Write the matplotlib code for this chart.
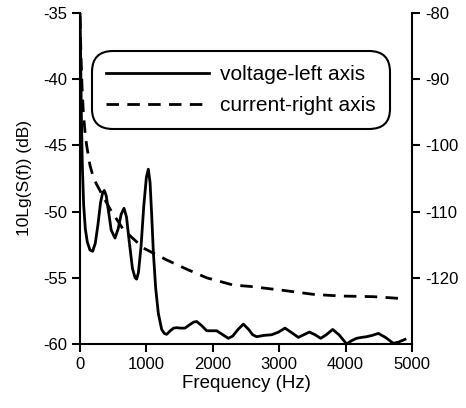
import matplotlib
matplotlib.use("Agg")
import matplotlib.pyplot as plt

plt.rcParams['font.family'] = ['Liberation Sans', 'DejaVu Sans']
plt.rcParams['axes.unicode_minus'] = False

# voltage spectrum (left axis, dB)
volt_f = [0, 10, 20, 35, 55, 80, 110, 150, 190, 230, 270, 310, 340, 366, 395, 430,
          470, 527, 575, 620, 663, 700, 740, 790, 830, 853, 880, 920, 960, 1000, 1029,
          1055, 1080, 1105, 1140, 1180, 1230, 1270, 1305, 1360, 1410, 1456, 1520, 1581,
          1650, 1710, 1757, 1830, 1908, 1980, 2058, 2150, 2234, 2300, 2380, 2460, 2540,
          2600, 2661, 2770, 2887, 2990, 3087, 3190, 3288, 3370, 3454, 3540, 3625, 3710,
          3805, 3900, 4016, 4090, 4166, 4240, 4317, 4400, 4493, 4600, 4719, 4800, 4895]
volt_db = [-34.5, -38.5, -42.5, -46.5, -49.5, -51.3, -52.3, -52.9, -53.0, -52.4, -51.0, -49.3, -48.6, -48.4, -48.8, -50.0,
           -51.4, -52.0, -51.3, -50.2, -49.75, -50.4, -52.2, -54.3, -55.0, -55.1, -54.6, -52.6, -49.6, -47.4, -46.8,
           -47.8, -50.3, -53.1, -55.8, -57.7, -58.9, -59.2, -59.27, -59.0, -58.8, -58.77, -58.8, -58.8,
           -58.55, -58.35, -58.3, -58.6, -59.0, -59.0, -59.0, -59.3, -59.57, -59.4, -58.9, -58.5, -58.9,
           -59.3, -59.45, -59.35, -59.3, -59.1, -58.8, -59.15, -59.5, -59.3, -59.1, -59.3, -59.57, -59.3,
           -58.9, -59.3, -60.0, -59.75, -59.57, -59.5, -59.45, -59.35, -59.2, -59.5, -59.95, -59.85, -59.65]

# current spectrum (right axis, dB)
curr_f = [0, 15, 30, 50, 75, 100, 150, 200, 251, 326, 452, 652, 953, 1305, 1607, 1908,
          2309, 2560, 3062, 3514, 3916, 4417, 4794]
curr_db = [-80.5, -86.5, -91.0, -95.0, -97.9, -100.0, -103.0, -104.8, -105.9, -107.3, -109.6, -112.7, -115.5, -117.3, -118.7, -120.0,
           -121.1, -121.3, -121.9, -122.5, -122.75, -122.85, -123.1]

fig = plt.figure(figsize=(4.66, 4.08), dpi=100)
ax = fig.add_axes([80/466, 1 - 344/408, 332/466, 331/408])
ax2 = ax.twinx()

l1, = ax.plot(volt_f, volt_db, color='black', lw=2.0, solid_joinstyle='round')
l2, = ax2.plot(curr_f, curr_db, color='black', lw=2.0, dashes=(4.5, 3))

ax.set_xlim(0, 5000)
ax.set_ylim(-60, -35)
ax2.set_ylim(-130, -80)
ax.set_xticks([0, 1000, 2000, 3000, 4000, 5000])
ax.set_yticks([-60, -55, -50, -45, -40, -35])
ax2.set_yticks([-120, -110, -100, -90, -80])

for a in (ax, ax2):
    a.spines['top'].set_visible(False)
    for s in a.spines.values():
        s.set_linewidth(1.5)
    a.tick_params(width=1.5, length=6, labelsize=12, direction='out')
ax.spines['right'].set_visible(False)
ax2.spines['left'].set_visible(False)
ax2.spines['bottom'].set_visible(False)

ax.set_xlabel('Frequency (Hz)', fontsize=13.5, labelpad=2)
ax.set_ylabel('10Lg(S(f)) (dB)', fontsize=12.5, labelpad=8)

leg = ax.legend([l1, l2], ['voltage-left axis', 'current-right axis'],
                loc='upper left', bbox_to_anchor=(16/332, 1 - 42/331),
                fontsize=15, handlelength=4.9, frameon=True, fancybox=True,
                framealpha=1, edgecolor='black', borderpad=0.5,
                labelspacing=0.55, handletextpad=0.55, borderaxespad=0)
leg.get_frame().set_linewidth(1.5)
leg.get_frame().set_boxstyle('round', pad=0.2, rounding_size=1.0)

fig.savefig('out.png', dpi=100)
